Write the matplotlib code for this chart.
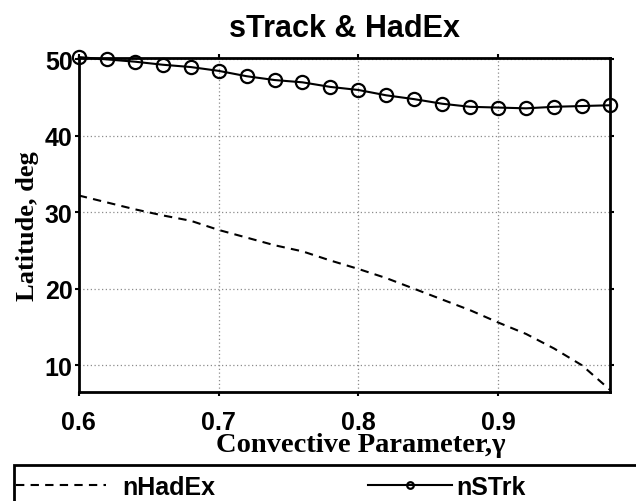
import numpy as np
import matplotlib.pyplot as plt
from matplotlib.patches import Rectangle

# convective parameter values (same grid for both curves)
gamma = [0.60, 0.62, 0.64, 0.66, 0.68, 0.70, 0.72, 0.74, 0.76, 0.78,
         0.80, 0.82, 0.84, 0.86, 0.88, 0.90, 0.92, 0.94, 0.96, 0.98]

# Hadley cell extent, deg
n_hadex = [32.2, 31.3, 30.4, 29.6, 28.9, 27.7, 26.7, 25.7, 24.9, 23.7,
           22.6, 21.4, 20.0, 18.6, 17.2, 15.6, 14.1, 12.2, 10.0, 6.8]

# storm track latitude, deg
n_strk = [50.3, 50.0, 49.7, 49.3, 49.0, 48.5, 47.8, 47.3, 47.0, 46.4,
          46.0, 45.3, 44.8, 44.2, 43.8, 43.7, 43.6, 43.8, 43.9, 44.0]

xticks = [0.6, 0.7, 0.8, 0.9]
yticks = [10, 20, 30, 40, 50]

sans = ['Liberation Sans', 'DejaVu Sans']
serif = ['Liberation Serif', 'DejaVu Serif']

fig = plt.figure(figsize=(6.36, 5.02), dpi=100)
ax = fig.add_axes([0.124, 0.217, 0.835, 0.665])

l1, = ax.plot(gamma, n_hadex, color='k', lw=1.5, ls=(0, (4, 3)), label='nHadEx')
l2, = ax.plot(gamma, n_strk, color='k', lw=1.5, marker='o', ms=9.5,
              mfc='none', mec='k', mew=1.6, label='nSTrk', clip_on=False)

ax.set_xlim(0.6, 0.98)
ax.set_ylim(6.5, 50.15)
ax.set_xticks(xticks)
ax.set_yticks(yticks)
ax.set_xticklabels([f'{t:.1f}' for t in xticks], family=sans, weight='bold', size=18)
ax.set_yticklabels([str(t) for t in yticks], family=sans, weight='bold', size=18)
ax.tick_params(direction='out', length=3, width=1.5, top=True, right=True, pad=1.5)
ax.tick_params(axis='x', pad=10)
ax.grid(True, ls=(0, (1, 2)), color='0.55', lw=0.9)
for s in ax.spines.values():
    s.set_linewidth(2)

ax.set_title('sTrack & HadEx', family=sans, weight='bold', size=22, pad=16)
ax.set_xlabel('Convective Parameter,γ', family=serif, weight='bold', size=20.5)
ax.xaxis.set_label_coords(0.53, -0.12)
ax.set_ylabel('Latitude, deg', family=serif, weight='bold', size=19, labelpad=4)

# legend box runs off the right and bottom edges of the figure
fig.patches.append(Rectangle((14 / 636, -0.1), 1.1, 0.1 + 36 / 502,
                             transform=fig.transFigure, fill=False,
                             edgecolor='k', lw=2))
leg_font = {'family': sans, 'weight': 'bold', 'size': 18}
leg1 = fig.legend([l1], ['nHadEx'], loc='center left',
                  bbox_to_anchor=(16 / 636, 1 - 488 / 502), frameon=False,
                  handlelength=3.6, handletextpad=0.64,
                  borderaxespad=0, borderpad=0, prop=leg_font)
leg2 = fig.legend([l2], ['nSTrk'], loc='center left',
                  bbox_to_anchor=(368 / 636, 1 - 488 / 502), frameon=False,
                  markerscale=0.5, handlelength=3.36, handletextpad=0.16,
                  borderaxespad=0, borderpad=0, prop=leg_font)

fig.savefig('out.png', dpi=100)
